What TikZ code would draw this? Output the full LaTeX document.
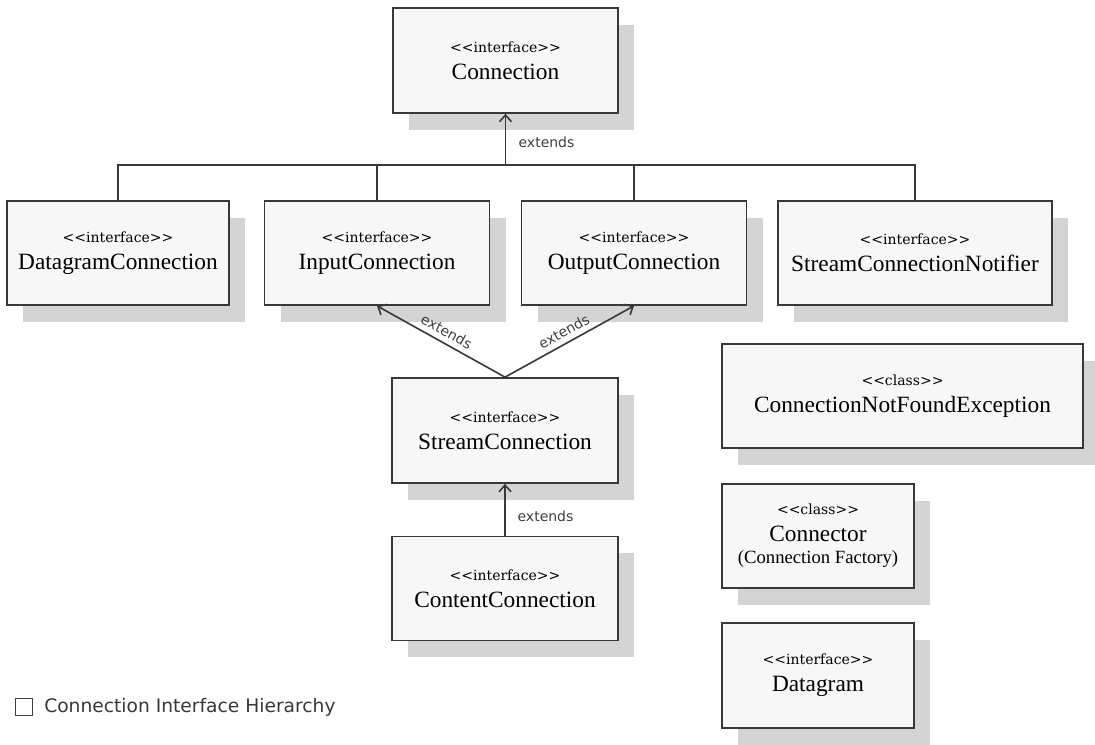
\documentclass[tikz,border=0pt]{standalone}
\usepackage{fontspec}
\setmainfont{Liberation Serif}
\newfontfamily\stereofont{DejaVu Serif}
\newfontfamily\lblfamily{DejaVu Sans}
\usetikzlibrary{arrows.meta,shadows}
\newcommand{\st}{\stereofont\fontsize{10.5}{12}\selectfont}
\tikzset{
  uml/.style={draw=black!78, line width=1.3pt, fill=black!3, align=center, inner sep=0pt,
    font=\fontsize{17.5}{20}\selectfont,
    general shadow={fill=black!17, shadow xshift=12pt, shadow yshift=-12.5pt}},
  link/.style={draw=black!78, line width=1.2pt},
  arr/.style={link, -{Straight Barb[length=5pt,width=9pt]}},
  lbl/.style={font=\lblfamily\fontsize{10.5}{12}\selectfont, text=black!75, inner sep=1pt},
}
\begin{document}
\begin{tikzpicture}[x=0.75pt,y=-0.75pt]
\useasboundingbox (0,0) rectangle (1095,744);
\fill[white] (0,0) rectangle (1095,744);

\node[uml, minimum width=168.75pt, minimum height=78.75pt] (conn) at (505.5,60.5) {{\st <<interface>>}\\Connection};
\node[uml, minimum width=166.5pt, minimum height=78pt] (dgc) at (118,253) {{\st <<interface>>}\\DatagramConnection};
\node[uml, minimum width=168.75pt, minimum height=78pt] (ic) at (377,253) {{\st <<interface>>}\\InputConnection};
\node[uml, minimum width=168.75pt, minimum height=78pt] (oc) at (634,253) {{\st <<interface>>}\\OutputConnection};
\node[uml, minimum width=205.5pt, minimum height=78pt] (scn) at (915,253) {{\st <<interface>>}\\StreamConnectionNotifier};
\node[uml, minimum width=270.75pt, minimum height=78pt] (cnfe) at (902.5,396) {{\st <<class>>}\\ConnectionNotFoundException};
\node[uml, minimum width=169.5pt, minimum height=78.75pt] (sc) at (505,430.5) {{\st <<interface>>}\\StreamConnection};
\node[uml, minimum width=169.5pt, minimum height=78pt] (cc) at (505,588.5) {{\st <<interface>>}\\ContentConnection};
\node[uml, minimum width=144pt, minimum height=78pt] (con) at (818,536) {{\st <<class>>}\\Connector\\[-3pt]{\fontsize{14}{16}\selectfont (Connection Factory)}};
\node[uml, minimum width=144pt, minimum height=78.75pt] (dg) at (818,675.5) {{\st <<interface>>}\\Datagram};

% generalization tree
\coordinate (bus) at (505.5,165);
\draw[link] (dgc.north) |- (bus) -| (scn.north);
\draw[link] (ic.north) -- (ic.north |- bus);
\draw[link] (oc.north) -- (oc.north |- bus);
\draw[arr] (bus) -- (conn.south);
\node[lbl, anchor=west] (l1) at (517,142) {extends};

\draw[arr] (sc.north) -- (ic.south) node[lbl, midway, sloped, above=3pt] (l2) {extends};
\draw[arr] (sc.north) -- (oc.south) node[lbl, midway, sloped, above=3pt] (l3) {extends};
\draw[arr] (cc.north) -- (sc.south);
\node[lbl, anchor=west] (l4) at (516,516) {extends};

% caption
\node[draw=black!75, line width=1pt, minimum size=13pt, inner sep=0pt] (chk) at (24,707) {};
\node[anchor=west, font=\lblfamily\fontsize{14}{16}\selectfont, text=black!78, inner sep=0pt] (cap) at (44,707) {Connection Interface Hierarchy};
\end{tikzpicture}
\end{document}
